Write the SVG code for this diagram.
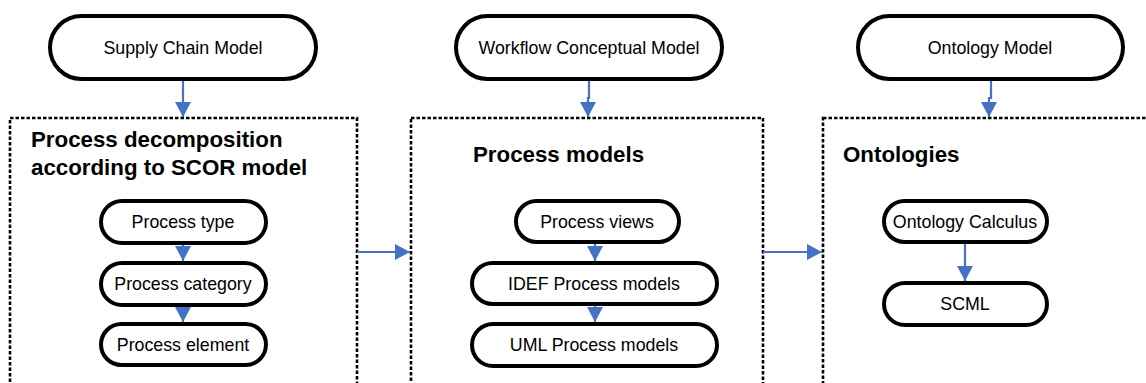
<svg xmlns="http://www.w3.org/2000/svg" width="1146" height="383" viewBox="0 0 1146 383">
<style>
.n{fill:#fff;stroke:#000;stroke-width:4}
.t{font-family:"Liberation Sans",Arial,sans-serif;font-size:17.8px;fill:#000;text-anchor:middle}
.h{font-family:"Liberation Sans",Arial,sans-serif;font-size:22.3px;font-weight:bold;fill:#000}
.c{fill:none;stroke:#4472C4;stroke-width:2.2}
.b{fill:none;stroke:#000;stroke-width:2.6;stroke-dasharray:3.5 2}
</style>
<defs>
<marker id="a" markerUnits="userSpaceOnUse" markerWidth="16" markerHeight="16" refX="15" refY="8" orient="auto">
<path d="M0,0 L15,8 L0,16 Z" fill="#4472C4"/>
</marker>
</defs>
<g id="box1"><rect class="b" x="10" y="118" width="347" height="280"/><text class="h" x="31" y="147">Process decomposition</text><text class="h" x="31" y="175">according to SCOR model</text></g>
<g id="box2"><rect class="b" x="411" y="118" width="352" height="280"/><text class="h" x="473" y="162">Process models</text></g>
<g id="box3"><rect class="b" x="823" y="118" width="340" height="280"/><text class="h" x="843" y="162">Ontologies</text></g>
<g id="connectors">
<path class="c" d="M183,79 V117" marker-end="url(#a)"/>
<path class="c" d="M589,79 V98 H588 V117" marker-end="url(#a)"/>
<path class="c" d="M991,79 V98 H989 V117" marker-end="url(#a)"/>
<path class="c" d="M183,243 V261" marker-end="url(#a)"/>
<path class="c" d="M183,305 V322" marker-end="url(#a)"/>
<path class="c" d="M595,242 V261" marker-end="url(#a)"/>
<path class="c" d="M595,304 V322" marker-end="url(#a)"/>
<path class="c" d="M965,242 V281" marker-end="url(#a)"/>
<path class="c" d="M357,252 H410" marker-end="url(#a)"/>
<path class="c" d="M763,252 H822" marker-end="url(#a)"/>
</g>
<g id="scm"><rect class="n" x="50" y="16" width="266" height="63" rx="31.5"/><text class="t" x="183" y="54">Supply Chain Model</text></g>
<g id="wcm"><rect class="n" x="456" y="16" width="266" height="63" rx="31.5"/><text class="t" x="589" y="54">Workflow Conceptual Model</text></g>
<g id="om"><rect class="n" x="858" y="16" width="265" height="63" rx="31.5"/><text class="t" x="990" y="54">Ontology Model</text></g>
<g id="ptype"><rect class="n" x="101" y="201" width="165" height="42" rx="21"/><text class="t" x="183" y="228">Process type</text></g>
<g id="pcat"><rect class="n" x="101" y="263" width="165" height="42" rx="21"/><text class="t" x="183" y="290">Process category</text></g>
<g id="pelem"><rect class="n" x="101" y="324" width="165" height="41" rx="20.5"/><text class="t" x="183" y="351">Process element</text></g>
<g id="pviews"><rect class="n" x="516" y="201" width="163" height="41" rx="20.5"/><text class="t" x="597" y="228">Process views</text></g>
<g id="idef"><rect class="n" x="472" y="263" width="245" height="41" rx="20.5"/><text class="t" x="594" y="290">IDEF Process models</text></g>
<g id="uml"><rect class="n" x="472" y="324" width="245" height="42" rx="21"/><text class="t" x="594" y="351">UML Process models</text></g>
<g id="ocalc"><rect class="n" x="884" y="201" width="163" height="41" rx="20.5"/><text class="t" x="965" y="228">Ontology Calculus</text></g>
<g id="scml"><rect class="n" x="884" y="283" width="163" height="42" rx="21"/><text class="t" x="965" y="310">SCML</text></g>
</svg>
